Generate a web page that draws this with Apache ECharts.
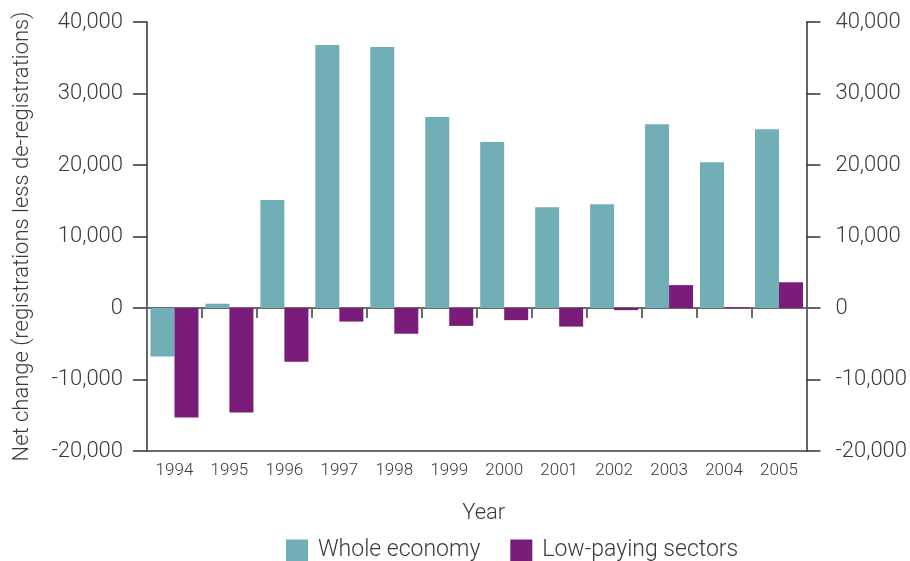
<!DOCTYPE html>
<html>
<head>
<meta charset="utf-8">
<script src="https://cdn.jsdelivr.net/npm/echarts@6/dist/echarts.min.js"></script>
<style>html,body{margin:0;padding:0;background:#fff}#c{width:910px;height:561px}</style>
</head>
<body>
<div id="c"></div>
<script>
const years = ['1994','1995','1996','1997','1998','1999','2000','2001','2002','2003','2004','2005'];
const wholeEconomy = [-6800, 600, 15100, 36800, 36500, 26700, 23200, 14100, 14500, 25700, 20400, 25000];
const lowPaying = [-15300, -14600, -7500, -1900, -3600, -2500, -1700, -2600, -300, 3200, 100, 3600];
const yTicks = [-20000, -10000, 0, 10000, 20000, 30000, 40000];
const seriesNames = ['Whole economy', 'Low-paying sectors'];

const FONT = 'Roboto';
const TXT = '#3a3a3a';
const fmt = v => v.toLocaleString('en-US');

const chart = echarts.init(document.getElementById('c'), null, {renderer: 'canvas'});
const yBase = {
  type: 'value', min: yTicks[0], max: yTicks[yTicks.length - 1], interval: 10000,
  splitLine: {show: false},
  axisLine: {show: true, lineStyle: {color: '#333', width: 1.5}},
  axisTick: {show: true, inside: false, length: 14, lineStyle: {color: '#333', width: 1.5}},
  axisLabel: {formatter: fmt, color: TXT, fontSize: 22, fontFamily: FONT, fontWeight: 300}
};
chart.setOption({
  animation: false,
  textStyle: {fontFamily: FONT},
  grid: {left: 147, right: 101, top: 22, bottom: 110, containLabel: false},
  legend: {
    data: seriesNames, left: 281, top: 534, itemWidth: 22, itemHeight: 22, itemGap: 30,
    icon: 'rect',
    textStyle: {color: TXT, fontSize: 23, fontFamily: FONT, fontWeight: 300, padding: [0, 0, 0, 5]}
  },
  xAxis: [
    {
      type: 'category', data: years, position: 'bottom',
      axisLine: {onZero: false, lineStyle: {color: '#6a6a6a', width: 2}},
      axisTick: {show: false},
      axisLabel: {color: TXT, fontSize: 17, fontFamily: FONT, fontWeight: 300, margin: 11},
      name: 'Year', nameLocation: 'middle', nameGap: 51,
      nameTextStyle: {color: TXT, fontSize: 22, fontFamily: FONT, fontWeight: 300, padding: [0, 0, 0, 14]}
    },
    {
      type: 'category', data: years, position: 'bottom',
      axisLine: {onZero: true, lineStyle: {color: '#6a6a6a', width: 2}},
      axisTick: {show: true, length: 10, lineStyle: {color: '#6a6a6a', width: 2}},
      axisLabel: {show: false}
    }
  ],
  yAxis: [
    Object.assign({}, yBase, {
      position: 'left',
      axisLabel: Object.assign({}, yBase.axisLabel, {margin: 24}),
      name: 'Net change (registrations less de-registrations)',
      nameLocation: 'middle', nameGap: 114, nameRotate: 90,
      nameTextStyle: {color: TXT, fontSize: 22, fontFamily: FONT, fontWeight: 300}
    }),
    Object.assign({}, yBase, {
      position: 'right',
      axisLabel: Object.assign({}, yBase.axisLabel, {margin: 29})
    })
  ],
  series: [
    {name: seriesNames[0], type: 'bar', data: wholeEconomy, barWidth: 24, barGap: '0%',
     itemStyle: {color: '#72aeb5'}, xAxisIndex: 0, yAxisIndex: 0},
    {name: seriesNames[1], type: 'bar', data: lowPaying, barWidth: 24, barGap: '0%',
     itemStyle: {color: '#7a1c7a'}, xAxisIndex: 0, yAxisIndex: 0}
  ]
});
</script>
</body>
</html>
